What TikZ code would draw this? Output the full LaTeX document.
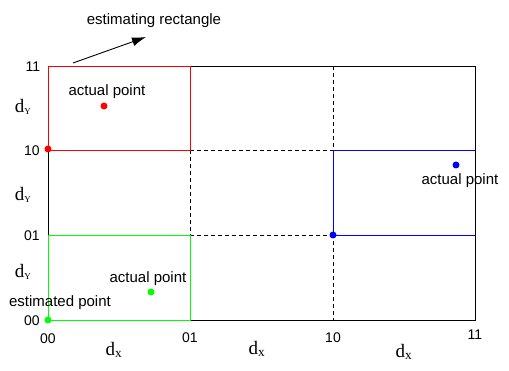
\documentclass[tikz,border=0pt]{standalone}
\usepackage{fontspec}
\setmainfont{Liberation Sans}
\newfontfamily\serifd{Liberation Serif}
\usetikzlibrary{arrows.meta}
\begin{document}
\begin{tikzpicture}[x=1pt,y=-1pt,
  lbl/.style={font=\fontsize{15}{17}\selectfont, inner sep=0pt},
  num/.style={font=\fontsize{14}{16}\selectfont, inner sep=0pt},
  dl/.style={font=\serifd\fontsize{19}{21}\selectfont, inner sep=0pt},
  dotr/.style={circle, fill=red, inner sep=0pt, minimum size=7pt},
  dotg/.style={circle, fill=green, inner sep=0pt, minimum size=7pt},
  dotb/.style={circle, fill=blue, inner sep=0pt, minimum size=7pt},
  dashline/.style={dash pattern=on 4pt off 3pt},
  every path/.style={line width=0.9pt}]
\useasboundingbox (0,0) rectangle (509,371);
% black outer parts
\draw (190,66) -- (475,66) -- (475,320) -- (190,320);
\draw (48,150) -- (48,235);
% dashed
\draw[dashline] (190,150) -- (333,150);
\draw[dashline] (190,235) -- (333,235);
\draw[dashline] (190,150) -- (190,235);
\draw[dashline] (333,66) -- (333,320);
% red rectangle
\draw[red] (48,66) rectangle (190,150);
% green rectangle
\draw[green] (48,235) rectangle (190,320);
% blue rectangle
\draw[blue] (475,150) -- (333,150) -- (333,235) -- (475,235);
% dots
\node[dotr] (r1) at (104,106) {};
\node[dotr] (r2) at (48,149) {};
\node[dotg] (g1) at (151,292) {};
\node[dotg] (g2) at (48,320) {};
\node[dotb] (b1) at (333,235) {};
\node[dotb] (b2) at (456,165) {};
% labels
\node[lbl] (est) at (154,21) {estimating rectangle};
\coordinate (arS) at (73,63);
\coordinate (arE) at (146,37);
\draw[-{Latex[length=14pt,width=9pt]}] (arS) -- (arE);
\node[lbl] (ap1) at (107,92) {actual point};
\node[lbl] (ap2) at (148,279) {actual point};
\node[lbl] (ap3) at (460,181) {actual point};
\node[lbl] (ep) at (60,303) {estimated point};
\node[num] (y11) at (33,67) {11};
\node[num] (y10) at (32,151) {10};
\node[num] (y01) at (32,236) {01};
\node[num] (y00) at (32,321) {00};
\node[num] (x00) at (48,339) {00};
\node[num] (x01) at (190,338) {01};
\node[num] (x10) at (333,338) {10};
\node[num] (x11) at (475,335) {11};
\node[dl] (dx1) at (114,350) {d\textsubscript{x}};
\node[dl] (dx2) at (257,349) {d\textsubscript{x}};
\node[dl] (dx3) at (404,352) {d\textsubscript{x}};
\node[dl] (dy1) at (23,107) {d\textsubscript{\fontsize{9}{9}\selectfont Y}};
\node[dl] (dy2) at (23,195) {d\textsubscript{\fontsize{9}{9}\selectfont Y}};
\node[dl] (dy3) at (23,272) {d\textsubscript{\fontsize{9}{9}\selectfont Y}};
\end{tikzpicture}
\end{document}
